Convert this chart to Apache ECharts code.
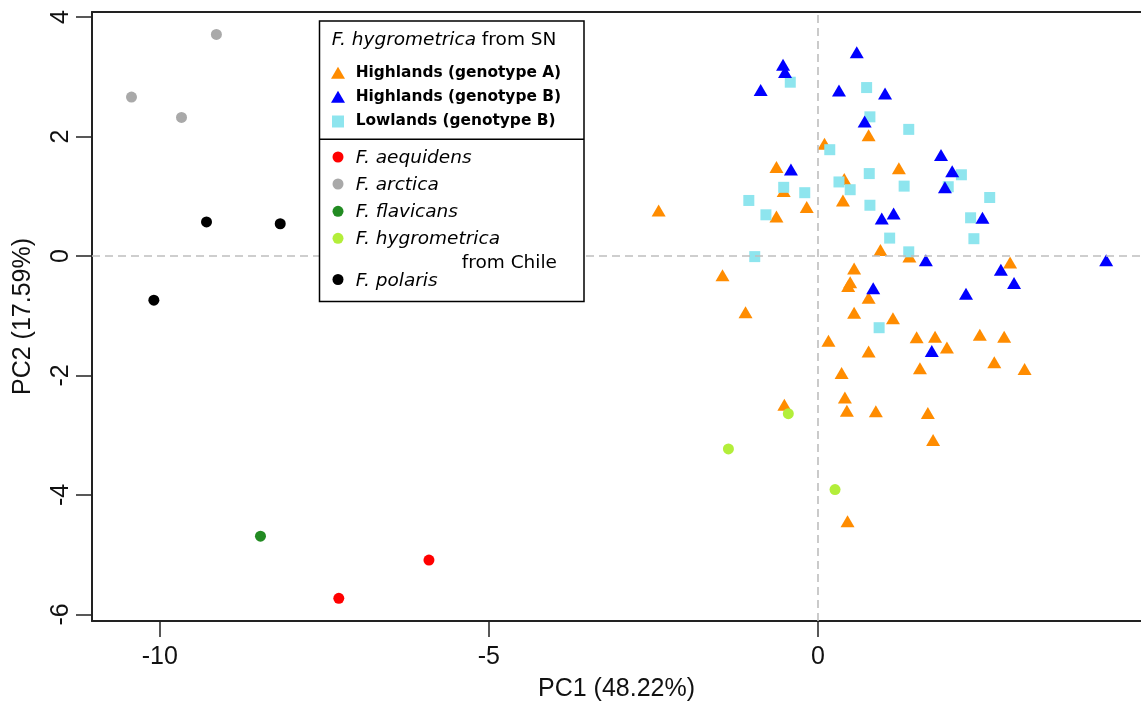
<!DOCTYPE html>
<html>
<head>
<meta charset="utf-8">
<script src="https://cdn.jsdelivr.net/npm/echarts@6/dist/echarts.min.js"></script>
<style>
  html, body { margin: 0; padding: 0; background: #fff; }
  #chart { width: 1141px; height: 707px; }
</style>
</head>
<body>
<div id="chart"></div>
<script>
// PCA scores [PC1, PC2] per group
const hylandsA = [
  [0.10, 1.88], [0.77, 2.02], [-0.63, 1.49], [1.23, 1.47], [0.40, 1.29],
  [-0.52, 1.09], [-0.17, 0.82], [0.38, 0.93], [-0.63, 0.66], [-2.42, 0.76],
  [0.95, 0.10], [0.55, -0.21], [0.49, -0.44], [0.46, -0.50], [0.77, -0.70],
  [-1.45, -0.32], [-1.10, -0.94], [0.55, -0.95], [1.14, -1.04], [1.39, -0.01],
  [2.92, -0.11], [0.16, -1.42], [0.77, -1.60], [0.36, -1.96], [0.41, -2.37],
  [0.44, -2.59], [0.88, -2.60], [-0.51, -2.49], [0.45, -4.44], [1.50, -1.36],
  [1.78, -1.35], [1.96, -1.53], [2.46, -1.32], [2.83, -1.35], [1.55, -1.88],
  [2.68, -1.78], [3.14, -1.89], [1.67, -2.63], [1.75, -3.08]
];
const hylandsB = [
  [0.59, 3.41], [-0.53, 3.20], [-0.50, 3.08], [-0.87, 2.78], [0.32, 2.77],
  [1.02, 2.72], [0.71, 2.25], [-0.41, 1.45], [0.97, 0.63], [1.15, 0.71],
  [0.84, -0.54], [1.87, 1.69], [2.04, 1.42], [1.93, 1.15], [2.50, 0.64],
  [1.64, -0.07], [2.78, -0.23], [2.98, -0.45], [2.25, -0.63], [4.38, -0.07],
  [1.73, -1.59]
];
const lowlandsB = [
  [-0.42, 2.91], [0.74, 2.82], [0.79, 2.33], [0.18, 1.78], [0.78, 1.38],
  [0.32, 1.24], [0.49, 1.11], [-0.52, 1.15], [-0.20, 1.06], [-1.05, 0.93],
  [-0.79, 0.69], [0.79, 0.85], [1.09, 0.30], [-0.96, -0.01], [1.38, 2.12],
  [2.18, 1.36], [1.31, 1.17], [1.98, 1.16], [2.61, 0.98], [2.32, 0.64],
  [2.37, 0.29], [1.38, 0.07], [0.93, -1.20]
];
const aequidens = [[-5.91, -5.09], [-7.28, -5.73]];
const arctica = [[-9.14, 3.71], [-10.43, 2.66], [-9.67, 2.32]];
const flavicans = [[-8.47, -4.69]];
const hygroChile = [[-0.45, -2.64], [-1.36, -3.23], [0.26, -3.91]];
const polaris = [[-9.29, 0.57], [-8.17, 0.54], [-10.09, -0.74]];

const xTicks = [-10, -5, 0];
const yTicks = [-6, -4, -2, 0, 2, 4];
const xTitle = 'PC1 (48.22%)';
const yTitle = 'PC2 (17.59%)';

const C = {
  orange: '#FF8C00', blue: '#0000FF', cyan: '#8EE5EE',
  red: '#FF0000', gray: '#A9A9A9', green: '#228B22', lime: '#B3EE3A', black: '#000000'
};

const axisFont = { fontFamily: 'Liberation Sans', fontSize: 25, color: '#111' };
const legendFont = 'DejaVu Sans';
const frame = { show: true, onZero: false, lineStyle: { color: '#222', width: 2 } };

function scatter(name, data, symbol, size, color, z) {
  return {
    name, type: 'scatter', data, symbol, symbolSize: size, z,
    itemStyle: { color, opacity: 1 },
    emphasis: { disabled: true }, silent: true
  };
}

// Legend drawn as a boxed panel with two sections
const LX = 319.5, LY = 21, LW = 264.5, LH = 280.5, DIV = 139.3;
const mx = 338, tx = 355.7;
function tri(cx, cy, color) {
  return { type: 'polygon', z: 101, shape: { points: [[cx, cy - 6.2], [cx + 7, cy + 5.8], [cx - 7, cy + 5.8]] }, style: { fill: color } };
}
function dot(cx, cy, color) {
  return { type: 'circle', z: 101, shape: { cx, cy, r: 5.5 }, style: { fill: color } };
}
function label(x, y, text, style) {
  return { type: 'text', z: 101, x, y, style: Object.assign({ text, fill: '#000', fontFamily: legendFont, verticalAlign: 'middle', align: 'left' }, style) };
}
const boldStyle = { fontSize: 15.4, fontWeight: 'bold' };
const italStyle = { fontSize: 18.5, fontStyle: 'italic' };

const legendEls = [
  { type: 'rect', z: 100, shape: { x: LX, y: LY, width: LW, height: LH }, style: { fill: '#fff', stroke: '#000', lineWidth: 1.5 } },
  { type: 'line', z: 101, shape: { x1: LX, y1: DIV, x2: LX + LW, y2: DIV }, style: { stroke: '#000', lineWidth: 1.5 } },
  {
    type: 'text', z: 101, x: 331.7, y: 40,
    style: {
      text: '{it|F. hygrometrica}{rg| from SN}', verticalAlign: 'middle', align: 'left',
      rich: {
        it: { fontFamily: legendFont, fontSize: 18.5, fontStyle: 'italic', fill: '#000' },
        rg: { fontFamily: legendFont, fontSize: 18.5, fill: '#000' }
      }
    }
  },
  tri(mx, 73, C.orange), label(tx, 72.5, 'Highlands (genotype A)', boldStyle),
  tri(mx, 97, C.blue), label(tx, 96.8, 'Highlands (genotype B)', boldStyle),
  { type: 'rect', z: 101, shape: { x: mx - 6, y: 115.5, width: 12, height: 12 }, style: { fill: C.cyan } },
  label(tx, 121, 'Lowlands (genotype B)', boldStyle),
  dot(mx, 157, C.red), label(tx, 158.5, 'F. aequidens', italStyle),
  dot(mx, 184, C.gray), label(tx, 185.5, 'F. arctica', italStyle),
  dot(mx, 211.3, C.green), label(tx, 212.5, 'F. flavicans', italStyle),
  dot(mx, 238.3, C.lime), label(tx, 239.5, 'F. hygrometrica', italStyle),
  label(461.7, 263.5, 'from Chile', { fontSize: 18.5 }),
  dot(mx, 279.5, C.black), label(tx, 281, 'F. polaris', italStyle)
];

const chart = echarts.init(document.getElementById('chart'), null, { renderer: 'canvas' });
chart.setOption({
  animation: false,
  backgroundColor: '#fff',
  grid: { left: 92, top: 12, right: 0, height: 611 },
  xAxis: [
    {
      type: 'value', min: -11.03, max: 4.909,
      splitLine: { show: false },
      axisLine: frame,
      axisTick: { show: true, customValues: xTicks, length: 16, lineStyle: { color: '#222', width: 1.5 } },
      axisLabel: Object.assign({ customValues: xTicks, margin: 24 }, axisFont),
      name: xTitle, nameLocation: 'middle', nameGap: 56,
      nameTextStyle: Object.assign({}, axisFont)
    },
    {
      // top edge of the plot frame
      type: 'value', position: 'top', min: -11.03, max: 4.909,
      splitLine: { show: false }, axisLine: frame,
      axisTick: { show: false }, axisLabel: { show: false }
    }
  ],
  yAxis: {
    type: 'value', min: -6.11, max: 4.085,
    splitLine: { show: false },
    axisLine: frame,
    axisTick: { show: true, customValues: yTicks, length: 16, lineStyle: { color: '#222', width: 1.5 } },
    axisLabel: Object.assign({ customValues: yTicks, margin: 18, rotate: 90 }, axisFont),
    name: yTitle, nameLocation: 'middle', nameGap: 56, nameRotate: 90,
    nameTextStyle: Object.assign({}, axisFont)
  },
  series: [
    {
      type: 'scatter', data: [], z: 1, silent: true,
      markLine: {
        silent: true, symbol: 'none', label: { show: false },
        lineStyle: { color: '#BEBEBE', width: 1.6, type: [8, 5] },
        emphasis: { disabled: true },
        data: [{ xAxis: 0 }, { yAxis: 0 }]
      }
    },
    scatter('Highlands (genotype A)', hylandsA, 'triangle', [14, 12], C.orange, 2),
    scatter('Lowlands (genotype B)', lowlandsB, 'rect', 11, C.cyan, 2),
    scatter('Highlands (genotype B)', hylandsB, 'triangle', [14, 12], C.blue, 2),
    scatter('F. aequidens', aequidens, 'circle', 11, C.red, 3),
    scatter('F. arctica', arctica, 'circle', 11, C.gray, 3),
    scatter('F. flavicans', flavicans, 'circle', 11, C.green, 3),
    scatter('F. hygrometrica from Chile', hygroChile, 'circle', 11, C.lime, 3),
    scatter('F. polaris', polaris, 'circle', 11, C.black, 3)
  ],
  graphic: { elements: legendEls }
});
</script>
</body>
</html>
